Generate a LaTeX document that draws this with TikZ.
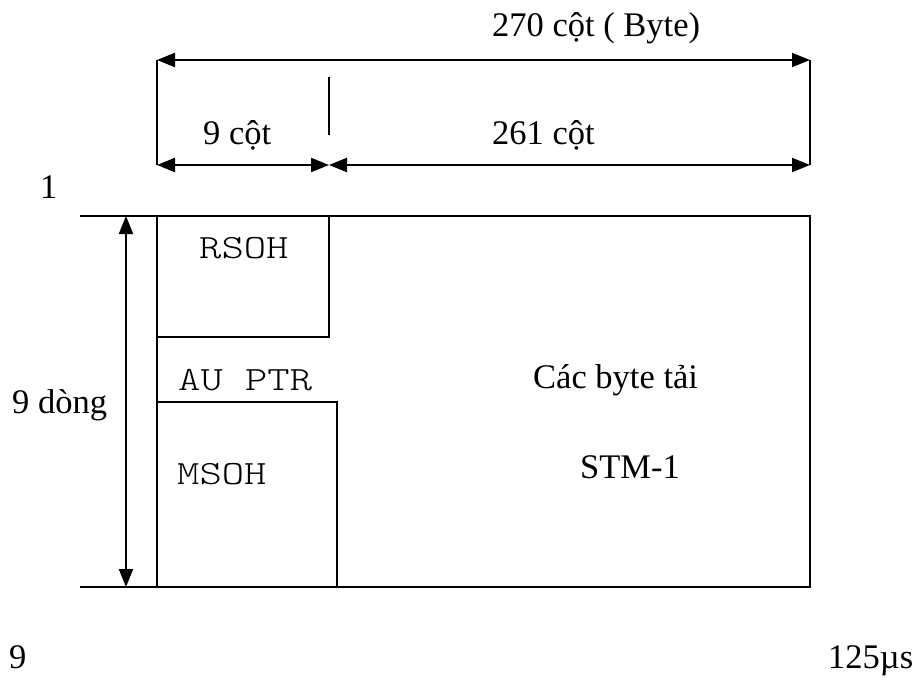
\documentclass[tikz,border=0pt]{standalone}
\usepackage{fontspec}
\setmainfont{Liberation Serif}
\setmonofont[FakeStretch=1.25]{Latin Modern Mono Light}
\usetikzlibrary{arrows.meta}
\tikzset{
  dim/.style={line width=2.2pt, {Triangle[length=18pt,width=14pt]}-{Triangle[length=18pt,width=14pt]}},
  frame/.style={line width=1.6pt},
  txt/.style={font=\fontsize{34.5}{38}\selectfont, inner sep=0pt, anchor=base west},
  mono/.style={font=\fontsize{34}{38}\selectfont\ttfamily, inner sep=0pt, anchor=base west},
}
\begin{document}
\begin{tikzpicture}[x=1pt,y=-1pt]
            \useasboundingbox (0,0) rectangle (914,685);
            % dimension lines on top
            \coordinate (tl) at (157,60);
            \coordinate (tr) at (810,60);
            \coordinate (bl) at (157,165);
            \coordinate (bm) at (329,165);
            \coordinate (br) at (810,165);
            \coordinate (mt) at (329,77);
            \coordinate (mb) at (329,135);
            \draw[frame] (tl) -- (bl);
            \draw[frame] (tr) -- (br);
            \draw[frame] (mt) -- (mb);
            \draw[dim] (tl) -- (tr);
            \draw[dim] (bl) -- (bm);
            \draw[dim] (bm) -- (br);
            \node[txt] (total) at (492,37) {270 cột ( Byte)};
            \node[txt] (nine) at (203,145) {9 cột};
            \node[txt] (rest) at (492,145) {261 cột};
            % frame
            \coordinate (ftl) at (80,216);
            \coordinate (ftr) at (810,216);
            \coordinate (fbl) at (80,587);
            \coordinate (fbr) at (810,587);
            \draw[frame] (ftl) -- (ftr) -- (fbr) -- (fbl);
            \draw[frame] (157,216) -- (157,587);
            \draw[frame] (157,337) -| (329,216);
            \draw[frame] (157,402) -| (337,587);
            \coordinate (at) at (126,216);
            \coordinate (ab) at (126,587);
            \draw[dim] (at) -- (ab);
            \node[mono] (rsoh) at (199,258) {RSOH};
            \node[mono] (ptr) at (178,390) {AU\ PTR};
            \node[mono] (msoh) at (177,484) {MSOH};
            \node[txt] (load) at (533,388) {Các byte tải};
            \node[txt] (stm) at (580,478) {STM-1};
            \node[txt] (rows) at (12,413) {9 dòng};
            \node[txt] (first) at (40,198) {1};
            \node[txt] (last) at (9,668) {9};
            \node[txt] (time) at (828,668) {125µs};
        \end{tikzpicture}
\end{document}
